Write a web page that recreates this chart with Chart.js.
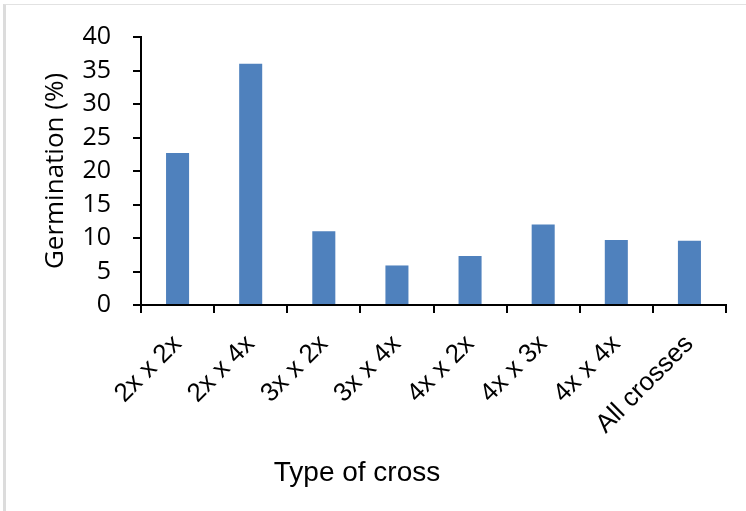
<!DOCTYPE html>
<html>
<head>
<meta charset="utf-8">
<title>Germination by type of cross</title>
<script src="https://cdn.jsdelivr.net/npm/chart.js@4.4.1/dist/chart.umd.min.js"></script>
<style>
    html, body {
        margin: 0;
        padding: 0;
        background: #fff;
    }
    #wrap {
        position: relative;
        width: 746px;
        height: 511px;
        overflow: hidden;
    }
    #frame {
        position: absolute;
        left: 3px;
        top: 4px;
        right: 0;
        bottom: 0;
        border-left: 3px solid #dcdcdc;
        border-top: 1px solid #e2e2e2;
        pointer-events: none;
    }
    canvas {
        position: absolute;
        left: 0;
        top: 0;
    }
</style>
</head>
<body>
<div id="wrap">
    <canvas id="germChart" width="746" height="511"></canvas>
    <div id="frame"></div>
</div>

<script>
// Data
const crossTypes = ['2x x 2x', '2x x 4x', '3x x 2x', '3x x 4x', '4x x 2x', '4x x 3x', '4x x 4x', 'All crosses'];
const germination = [22.7, 36.0, 11.0, 5.9, 7.3, 12.0, 9.7, 9.6];
const yTicks = [0, 5, 10, 15, 20, 25, 30, 35, 40];

const barColor = '#4F81BD';
const axisColor = '#000000';

// x-axis title sits left of centre in the original, so draw it ourselves
const xTitlePlugin = {
    id: 'xTitle',
    afterDraw(chart) {
        const ctx = chart.ctx;
        ctx.save();
        ctx.font = '28px "Liberation Sans", Arial, sans-serif';
        ctx.fillStyle = '#000';
        ctx.textAlign = 'center';
        ctx.textBaseline = 'alphabetic';
        ctx.fillText('Type of cross', 357, 481);
        ctx.restore();
    }
};

function createChart() {
    const ctx = document.getElementById('germChart').getContext('2d');

    return new Chart(ctx, {
        type: 'bar',
        data: {
            labels: crossTypes,
            datasets: [{
                label: 'Germination (%)',
                data: germination,
                backgroundColor: barColor,
                borderWidth: 0,
                categoryPercentage: 1.0,
                barPercentage: 0.315
            }]
        },
        options: {
            responsive: false,
            animation: false,
            layout: {
                padding: { left: 0, top: 37, right: 20, bottom: 0 }
            },
            plugins: {
                legend: { display: false },
                tooltip: { enabled: false }
            },
            scales: {
                x: {
                    grid: {
                        display: true,
                        drawOnChartArea: false,
                        drawTicks: true,
                        tickLength: 8,
                        color: axisColor,
                        lineWidth: 2
                    },
                    border: { display: true, color: axisColor, width: 2 },
                    ticks: {
                        color: '#000',
                        autoSkip: false,
                        minRotation: 45,
                        maxRotation: 45,
                        padding: 16,
                        font: { family: '"Liberation Sans", Arial, sans-serif', size: 26 }
                    },
                    afterFit(scale) {
                        scale.height = 206;
                    }
                },
                y: {
                    min: 0,
                    max: 40,
                    afterBuildTicks(scale) {
                        scale.ticks = yTicks.map(v => ({ value: v }));
                    },
                    grid: {
                        display: true,
                        drawOnChartArea: false,
                        drawTicks: true,
                        tickLength: 8,
                        color: axisColor,
                        lineWidth: 2
                    },
                    border: { display: true, color: axisColor, width: 2 },
                    ticks: {
                        color: '#000',
                        padding: 22,
                        font: { family: '"Open Sans", sans-serif', size: 25 }
                    },
                    title: {
                        display: true,
                        text: 'Germination (%)',
                        color: '#000',
                        padding: { top: 40, bottom: 0 },
                        font: { family: '"Open Sans", sans-serif', size: 26 }
                    },
                    afterFit(scale) {
                        scale.width = 141;
                    }
                }
            }
        },
        plugins: [xTitlePlugin]
    });
}

document.addEventListener('DOMContentLoaded', () => {
    createChart();
});
</script>
</body>
</html>
